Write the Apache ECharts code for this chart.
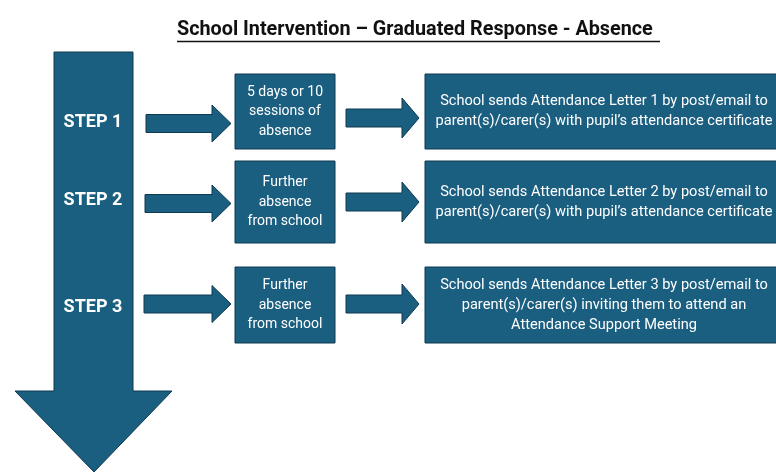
<!DOCTYPE html>
<html>
<head>
<meta charset="utf-8">
<script src="https://cdn.jsdelivr.net/npm/echarts@6/dist/echarts.min.js"></script>
<style>
  html, body { margin: 0; padding: 0; background: #ffffff; }
  #main { width: 776px; height: 473px; }
</style>
</head>
<body>
<div id="main"></div>
<script>
// diagram content
const titleText = 'School Intervention \u2013 Graduated Response - Absence ';
const steps = ['STEP 1', 'STEP 2', 'STEP 3'];
const triggers = [
  '5 days or 10\nsessions of\nabsence',
  'Further\nabsence\nfrom school',
  'Further\nabsence\nfrom school'
];
const actions = [
  'School sends Attendance Letter 1 by post/email to\nparent(s)/carer(s) with pupil\u2019s attendance certificate',
  'School sends Attendance Letter 2 by post/email to\nparent(s)/carer(s) with pupil\u2019s attendance certificate',
  'School sends Attendance Letter 3 by post/email to\nparent(s)/carer(s) inviting them to attend an\nAttendance Support Meeting'
];

// layout (pixel space of the hidden axes)
const rowTop = [74, 161, 267];
const rowBottom = [149, 243, 343];
const labelY = [122, 200, 307];
const arrow1Y = [123.5, 203.5, 304];
const arrow2Y = [118, 202, 304];

const FILL = '#1a5e80';
const EDGE = '#0e3a51';

let chart = echarts.init(document.getElementById('main'));

function arrowPts(tail, base, tip, cy, sh, hh) {
  return [
    [tail, cy - sh], [base, cy - sh], [base, cy - hh], [tip, cy],
    [base, cy + hh], [base, cy + sh], [tail, cy + sh]
  ];
}

function renderRow(params, api) {
  let i = api.value(0);
  let C = p => api.coord(p);
  let box = (x0, x1) => {
    let a = C([x0, rowTop[i]]), b = C([x1, rowBottom[i]]);
    return {
      type: 'rect',
      shape: { x: a[0], y: a[1], width: b[0] - a[0], height: b[1] - a[1] },
      style: { fill: FILL, stroke: EDGE, lineWidth: 1 }
    };
  };
  let label = (x, y, txt, size, weight, lh) => {
    let p = C([x, y]);
    return {
      type: 'text',
      x: p[0], y: p[1],
      style: {
        text: txt, fill: '#ffffff', align: 'center', verticalAlign: 'middle',
        fontFamily: 'Roboto', fontSize: size, fontWeight: weight, lineHeight: lh
      }
    };
  };
  let midY = (rowTop[i] + rowBottom[i]) / 2;
  return {
    type: 'group',
    children: [
      label(93, labelY[i], steps[i], 18, 'bold', 20),
      {
        type: 'polygon',
        shape: { points: arrowPts(146 - i, 212, 231, arrow1Y[i], 9, 18.5).map(C) },
        style: { fill: FILL, stroke: EDGE, lineWidth: 1 }
      },
      box(235, 335),
      label(285, midY, triggers[i], 14, 'normal', 19.5),
      {
        type: 'polygon',
        shape: { points: arrowPts(346, 402, 419, arrow2Y[i], 9, 20).map(C) },
        style: { fill: FILL, stroke: EDGE, lineWidth: 1 }
      },
      box(425, 790),
      label(604, midY, actions[i], 14.6, 'normal', 20)
    ]
  };
}

function renderBigArrow(params, api) {
  let pts = [[54, 52], [133, 52], [133, 391], [172, 391], [94, 472],
             [15, 391], [54, 391]].map(p => api.coord(p));
  return {
    type: 'polygon',
    shape: { points: pts },
    style: { fill: FILL, stroke: EDGE, lineWidth: 1 }
  };
}

chart.setOption({
  backgroundColor: '#ffffff',
  animation: false,
  title: {
    text: titleText,
    left: 177,
    top: 20,
    padding: 0,
    textStyle: { fontFamily: 'Roboto', fontSize: 19.8, fontWeight: 'bold', color: '#111111' }
  },
  graphic: [{
    type: 'line',
    shape: { x1: 177, y1: 41.5, x2: 660, y2: 41.5 },
    style: { stroke: '#111111', lineWidth: 1.3 }
  }],
  grid: { left: 0, right: 0, top: 0, bottom: 0 },
  xAxis: { type: 'value', min: 0, max: 776, show: false },
  yAxis: { type: 'value', min: 0, max: 473, inverse: true, show: false },
  series: [
    {
      type: 'custom',
      clip: false,
      renderItem: renderBigArrow,
      data: [[0]]
    },
    {
      type: 'custom',
      clip: false,
      renderItem: renderRow,
      data: steps.map((s, i) => [i])
    }
  ]
});
</script>
</body>
</html>
